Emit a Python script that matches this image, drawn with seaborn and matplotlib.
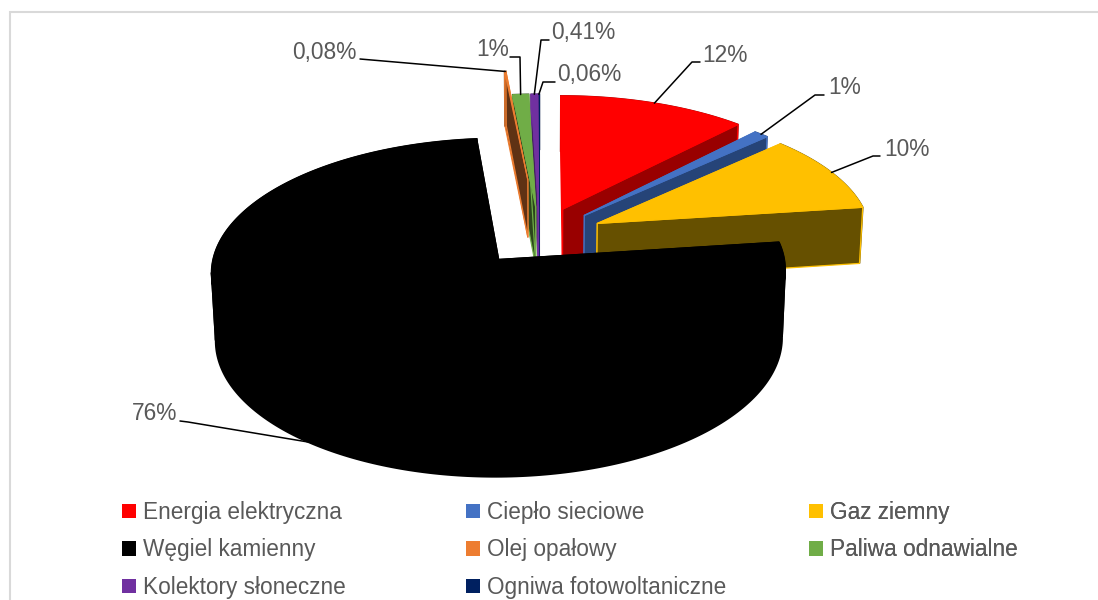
import numpy as np
import matplotlib
matplotlib.use("Agg")
import matplotlib.pyplot as plt
from matplotlib.patches import Patch
import seaborn as sns

# Data
categories = ['Energia elektryczna', 'Ciepło sieciowe', 'Gaz ziemny', 'Węgiel kamienny',
              'Olej opałowy', 'Paliwa odnawialne', 'Kolektory słoneczne', 'Ogniwa fotowoltaniczne']
values = [12, 1, 10, 76, 0.08, 1, 0.41, 0.06]
value_labels = ['12%', '1%', '10%', '76%', '0,08%', '1%', '0,41%', '0,06%']

colors = ['#ff0000', '#4472c4', '#ffc000', '#000000', '#ed7d31', '#70ad47', '#7030a0', '#002060']
side_colors = ['#990000', '#264478', '#665000', '#000000', '#5f3214', '#2c451c', '#43205f', '#001340']
explode = [0.23, 0.23, 0.23, 0.23, 0.46, 0.23, 0.23, 0.23]
radius = [1, 0.975, 0.975, 1, 1, 1, 1, 1]
thick = [0.24, 0.24, 0.23, 0.27, 0.24, 0.24, 0.24, 0.24]

# order of painting, back to front
draw_order = [7, 6, 5, 4, 0, 1, 2, 3]

# text position, elbow of the leader line, height on the slice (0 top, 1 bottom)
label_pos = [(702, 55), (828, 88), (884, 149), (132, 414), (292, 52), (476, 50), (551, 32), (557, 74)]
label_elbow = [[(692, 62), (700, 62)], [(815, 95), (824, 95)], [(873, 156), (880, 156)],
               [(188, 422), (180, 421)], [(360, 59)], [(520, 57), (510, 57)],
               [(541, 40), (549, 40)], [(543, 82), (555, 82)]]
label_height = [0, 0, 0, 1, 0, 0, 0, 0]

sns.set_theme(style='white')
plt.rcParams['font.family'] = ['Liberation Sans', 'DejaVu Sans']

# camera
tilt_a = 0.455
tilt_c = np.sqrt(1 - tilt_a**2)
cam_d = 10.0
scale = 281.0
center = (539.5, 236)


def project(x, y, z):
    s = cam_d / (cam_d + y * tilt_c - z * tilt_a)
    return center[0] + scale * s * x, center[1] - scale * s * (y * tilt_a + z * tilt_c)


def rim(t, ox, oy, z, r=1.0):
    return project(ox + r * np.sin(t), oy + r * np.cos(t), z + 0 * t)


fig, ax = plt.subplots(figsize=(10.98, 6), dpi=100)
ax.set_position([0, 0, 1, 1])
ax.set_xlim(0, 1098)
ax.set_ylim(600, 0)
ax.axis('off')

# chart frame
ax.plot([10, 10, 1098], [600, 12, 12], color='#d9d9d9', lw=1.5, solid_joinstyle='miter')

shares = np.array(values) / np.sum(values)
ends = np.cumsum(shares) * 2 * np.pi
starts = ends - shares * 2 * np.pi

for i in draw_order:
    t = np.linspace(starts[i], ends[i], 300)
    mid = (starts[i] + ends[i]) / 2
    ox, oy = explode[i] * np.sin(mid), explode[i] * np.cos(mid)

    tx, ty = rim(t, ox, oy, 0.0, radius[i])
    bx, by = rim(t, ox, oy, -thick[i], radius[i])
    ax_top, ay_top = project(ox, oy, 0.0)
    ax_bot, ay_bot = project(ox, oy, -thick[i])

    # outer wall, split where it folds so the winding does not cancel
    folds = np.where(np.diff(np.sign(np.diff(tx))) != 0)[0] + 1
    cuts = np.r_[0, folds, len(t) - 1]
    for a, b in zip(cuts[:-1], cuts[1:]):
        ax.fill(np.r_[tx[a:b + 1], bx[a:b + 1][::-1]], np.r_[ty[a:b + 1], by[a:b + 1][::-1]],
                color=side_colors[i], lw=1.2)
    # both cut faces
    for k in (0, -1):
        ax.fill([ax_top, tx[k], bx[k], ax_bot], [ay_top, ty[k], by[k], ay_bot],
                facecolor=side_colors[i], edgecolor=colors[i], lw=0.9)
    # top
    ax.fill(np.r_[ax_top, tx], np.r_[ay_top, ty], color=colors[i], lw=0.8)

# labels with leader lines
for i in range(len(values)):
    mid = (starts[i] + ends[i]) / 2
    ox, oy = explode[i] * np.sin(mid), explode[i] * np.cos(mid)
    px, py = rim(np.array([mid]), ox, oy, -thick[i] * label_height[i], radius[i])
    xs = [px[0]] + [p[0] for p in label_elbow[i]]
    ys = [py[0]] + [p[1] for p in label_elbow[i]]
    ax.plot(xs, ys, color='black', lw=1.1, zorder=5)
    ax.text(label_pos[i][0], label_pos[i][1], value_labels[i], fontsize=16.4,
            color='#595959', va='center', ha='left', zorder=6)

# legend, one block per column
columns = [[0, 3, 6], [1, 4, 7], [2, 5]]
column_x = [122, 466, 809]
for idx, x0 in zip(columns, column_x):
    handles = [Patch(facecolor=colors[i], edgecolor='none', label=categories[i]) for i in idx]
    leg = ax.legend(handles=handles, loc='upper left', bbox_to_anchor=(x0, 501),
                    bbox_transform=ax.transData, frameon=False, ncol=1, fontsize=16.25,
                    labelcolor='#595959', handlelength=0.62, handleheight=0.62,
                    handletextpad=0.31, labelspacing=0.64, borderpad=0, borderaxespad=0)
    ax.add_artist(leg)

fig.savefig('out.png', dpi=100)
